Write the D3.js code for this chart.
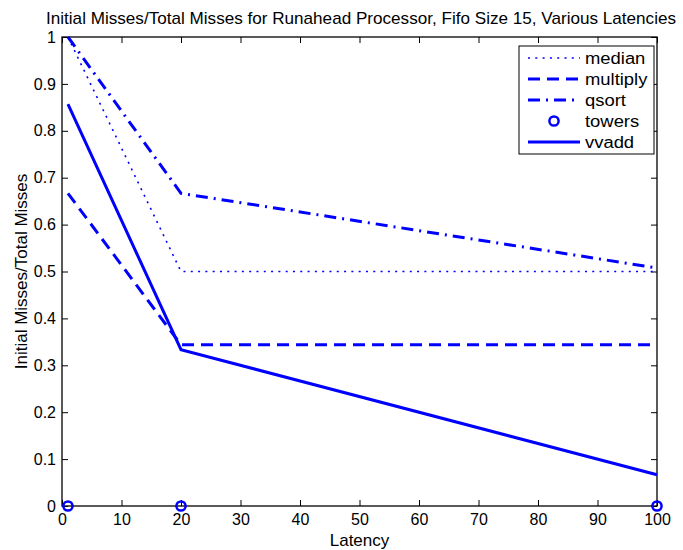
<!DOCTYPE html>
<html>
<head>
<meta charset="utf-8">
<script src="https://cdn.jsdelivr.net/npm/d3@7"></script>
<style>
  body { margin: 0; background: #fff; }
  svg text { font-family: "Liberation Sans", Arial, Helvetica, sans-serif; fill: #000; }
</style>
</head>
<body>
<svg id="chart" width="683" height="550"></svg>
<script>
// Latencies (x) and the ratio of initial misses to total misses for each benchmark
const latencies = [1, 20, 100];
const median   = [1.0, 0.5, 0.5];
const multiply = [0.6667, 0.3438, 0.3438];
const qsort    = [1.0, 0.6667, 0.5075];
const towers   = [0, 0, 0];
const vvadd    = [0.8571, 0.3333, 0.0667];

const xTicks = [0, 10, 20, 30, 40, 50, 60, 70, 80, 90, 100];
const yTicks = [0, 0.1, 0.2, 0.3, 0.4, 0.5, 0.6, 0.7, 0.8, 0.9, 1];

const series = [
  { name: "median",   values: median,   dash: "2,5.3",    width: 1.6, type: "line" },
  { name: "multiply", values: multiply, dash: "12,7",     width: 3,   type: "line" },
  { name: "qsort",    values: qsort,    dash: "12,6,2,6", width: 3,   type: "line" },
  { name: "towers",   values: towers,   type: "marker" },
  { name: "vvadd",    values: vvadd,    dash: null,       width: 3,   type: "line" }
];

const svg = d3.select("#chart");
const plotL = 62, plotR = 657, plotT = 37, plotB = 506;
const blue = "#0000ff";

const x = d3.scaleLinear().domain([0, 100]).range([plotL, plotR]);
const y = d3.scaleLinear().domain([0, 1]).range([plotB, plotT]);

// Axes box with inward ticks on all four sides
const tickLen = 6;
const fmt = d => d === 0 ? "0" : d === 1 ? "1" : d3.format(".1f")(d);

svg.append("g").attr("transform", `translate(0,${plotB})`)
  .call(d3.axisBottom(x).tickValues(xTicks).tickSize(-tickLen).tickPadding(8).tickSizeOuter(0))
  .call(g => g.selectAll("text").attr("font-size", 16));
svg.append("g").attr("transform", `translate(0,${plotT})`)
  .call(d3.axisTop(x).tickValues(xTicks).tickSize(-tickLen).tickFormat("").tickSizeOuter(0));
svg.append("g").attr("transform", `translate(${plotL},0)`)
  .call(d3.axisLeft(y).tickValues(yTicks).tickSize(-tickLen).tickPadding(6).tickFormat(fmt).tickSizeOuter(0))
  .call(g => g.selectAll("text").attr("font-size", 16));
svg.append("g").attr("transform", `translate(${plotR},0)`)
  .call(d3.axisRight(y).tickValues(yTicks).tickSize(-tickLen).tickFormat("").tickSizeOuter(0));

svg.selectAll(".domain").remove();
svg.selectAll(".tick line").attr("stroke", "#000").attr("stroke-width", 1);
svg.append("rect")
  .attr("x", plotL).attr("y", plotT)
  .attr("width", plotR - plotL).attr("height", plotB - plotT)
  .attr("fill", "none").attr("stroke", "#000").attr("stroke-width", 1.3);

// Data lines
const line = d3.line().x((d, i) => x(latencies[i])).y(d => y(d));
const plot = svg.append("g");
series.filter(s => s.type === "line").forEach(s => {
  plot.append("path")
    .datum(s.values)
    .attr("d", line)
    .attr("fill", "none")
    .attr("stroke", blue)
    .attr("stroke-width", s.width)
    .attr("stroke-dasharray", s.dash);
});
series.filter(s => s.type === "marker").forEach(s => {
  plot.selectAll(null).data(s.values).enter().append("circle")
    .attr("cx", (d, i) => x(latencies[i]))
    .attr("cy", d => y(d))
    .attr("r", 4.6)
    .attr("fill", "none")
    .attr("stroke", blue)
    .attr("stroke-width", 2.5);
});

// Title and axis labels
svg.append("text").attr("x", 46).attr("y", 24)
  .attr("font-size", 17)
  .attr("textLength", 630).attr("lengthAdjust", "spacingAndGlyphs")
  .text("Initial Misses/Total Misses for Runahead Processor, Fifo Size 15, Various Latencies");
svg.append("text").attr("x", (plotL + plotR) / 2).attr("y", 546)
  .attr("text-anchor", "middle").attr("font-size", 17)
  .text("Latency");
svg.append("text")
  .attr("transform", `translate(27,${(plotT + plotB) / 2}) rotate(-90)`)
  .attr("text-anchor", "middle").attr("font-size", 17)
  .text("Initial Misses/Total Misses");

// Legend
const lg = svg.append("g").attr("transform", "translate(519,46)");
lg.append("rect").attr("width", 135).attr("height", 108)
  .attr("fill", "#fff").attr("stroke", "#000").attr("stroke-width", 1);
series.forEach((s, i) => {
  const cy = 12 + i * 21;
  if (s.type === "line") {
    lg.append("line").attr("x1", 9).attr("x2", 61).attr("y1", cy).attr("y2", cy)
      .attr("stroke", blue).attr("stroke-width", s.width).attr("stroke-dasharray", s.dash);
  } else {
    lg.append("circle").attr("cx", 35).attr("cy", cy).attr("r", 4.6)
      .attr("fill", "none").attr("stroke", blue).attr("stroke-width", 2.5);
  }
  const t = lg.append("text").attr("x", 66).attr("y", cy + 6).attr("font-size", 16).text(s.name);
  const w = t.node().getComputedTextLength();
  t.attr("textLength", w * 1.15).attr("lengthAdjust", "spacingAndGlyphs");
});
</script>
</body>
</html>
